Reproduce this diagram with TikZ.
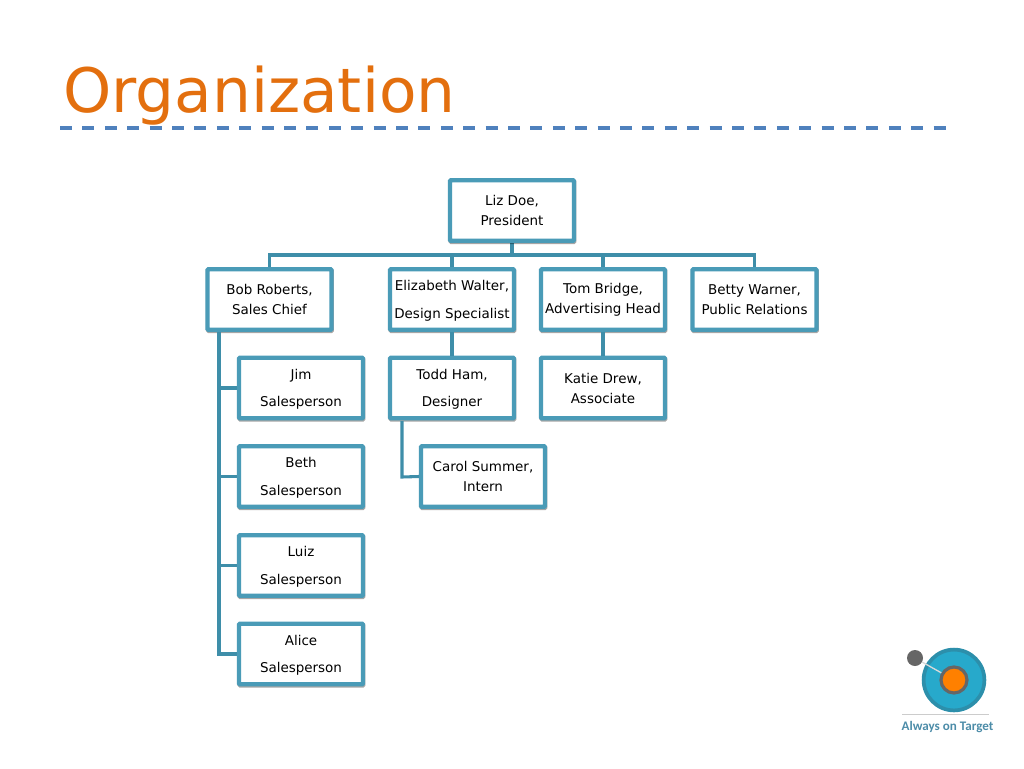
\documentclass[tikz,border=0pt]{standalone}
\usepackage{fontspec}
\setmainfont{DejaVu Sans}
\newfontfamily\logofont{Carlito}
\usepackage{tikz}
\usetikzlibrary{shadows,calc}
\definecolor{boxblue}{HTML}{4A9BB7}
\definecolor{linkblue}{HTML}{3E8EA9}
\definecolor{titleorange}{HTML}{E36F0E}
\definecolor{ruleblue}{HTML}{4F81BD}
\definecolor{logoteal}{HTML}{27A9CB}
\definecolor{logoring}{HTML}{2C8FAB}
\definecolor{logogray}{HTML}{666666}
\definecolor{logotext}{HTML}{4C8CA8}
\tikzset{
  orgbox/.style={draw=boxblue, line width=3.1pt, fill=white, align=center, inner sep=0pt,
    minimum width=93pt, minimum height=45.4pt, rounded corners=0.6pt,
    drop shadow={shadow xshift=0.3pt, shadow yshift=-0.9pt, opacity=.35, draw=black, line width=3.1pt}},
  tight/.style={orgbox, font=\fontsize{10.1}{15}\selectfont},
  loose/.style={orgbox, text depth=0pt, font=\fontsize{10.1}{20.6}\selectfont},
  link/.style={draw=linkblue, line width=2.3pt}
}
\begin{document}
\begin{tikzpicture}[x=0.75pt,y=-0.75pt]
\useasboundingbox (0,0) rectangle (1024,768);
\node (title) at (63,112) [anchor=base west, inner sep=0pt, text=titleorange, font=\fontsize{46}{50}\selectfont] {Organization};
\coordinate (ruleL) at (60,128);
\coordinate (ruleR) at (946,128);
\draw[ruleblue, line width=2.4pt, dash pattern=on 9pt off 7.8pt] (ruleL)--(ruleR);

\coordinate (bus) at (512,255);
\coordinate (trunk) at (219,654);
\coordinate (stub) at (402,477);
\draw[link] (512,242)--(bus);
\draw[link] (bus) -| (269.5,268);
\draw[link] (bus) -| (452,268);
\draw[link] (bus) -| (603,268);
\draw[link] (bus) -| (754.5,268);

\node (liz) at (512,210.5) [tight] {Liz Doe,\\President};
\node (bob) at (269.5,299.5) [tight] {Bob Roberts,\\Sales Chief};
\node (elizabeth) at (452,299.5) [loose] {Elizabeth Walter,\\Design Specialist};
\node (tom) at (603,299.5) [tight] {Tom Bridge,\\Advertising Head};
\node (betty) at (754.5,299.5) [tight] {Betty Warner,\\Public Relations};
\node (jim) at (301,388) [loose] {Jim\\Salesperson};
\node (todd) at (452,388) [loose] {Todd Ham,\\Designer};
\node (katie) at (603,388) [tight] {Katie Drew,\\Associate};
\node (carol) at (483,476.5) [tight] {Carol Summer,\\Intern};
\node (beth) at (301,476.5) [loose] {Beth\\Salesperson};
\node (luiz) at (301,565.5) [loose] {Luiz\\Salesperson};
\node (alice) at (301,654) [loose] {Alice\\Salesperson};

\draw[link] (elizabeth)--(todd);
\draw[link] (tom)--(katie);
\draw[link] (219,332)--(trunk)--(alice.west);
\draw[link] (219,388)--(jim.west);
\draw[link] (219,476.5)--(beth.west);
\draw[link] (219,565.5)--(luiz.west);
\draw[link] (402,421)--(stub)--(carol.west);

% logo
\fill[logoteal, draw=logoring, line width=2.8pt] (954,680) circle (22.8pt);
\node (dot) at (915,658) [circle, fill=logogray, inner sep=0pt, minimum size=12pt] {};
\node (target) at (954,680) [circle, draw=logogray, line width=2.4pt, fill=orange, inner sep=0pt, minimum size=19.5pt] {};
\draw[white!85!black, line width=1pt] (dot)--(target);
\coordinate (logoL) at (902,714);
\coordinate (logoR) at (989,714);
\draw[black!20, line width=0.5pt] (logoL)--(logoR);
\node (motto) at (947.5,727) [text=logotext, font=\logofont\bfseries\fontsize{9.8}{11}\selectfont, inner sep=0pt] {Always on Target};
\end{tikzpicture}
\end{document}
